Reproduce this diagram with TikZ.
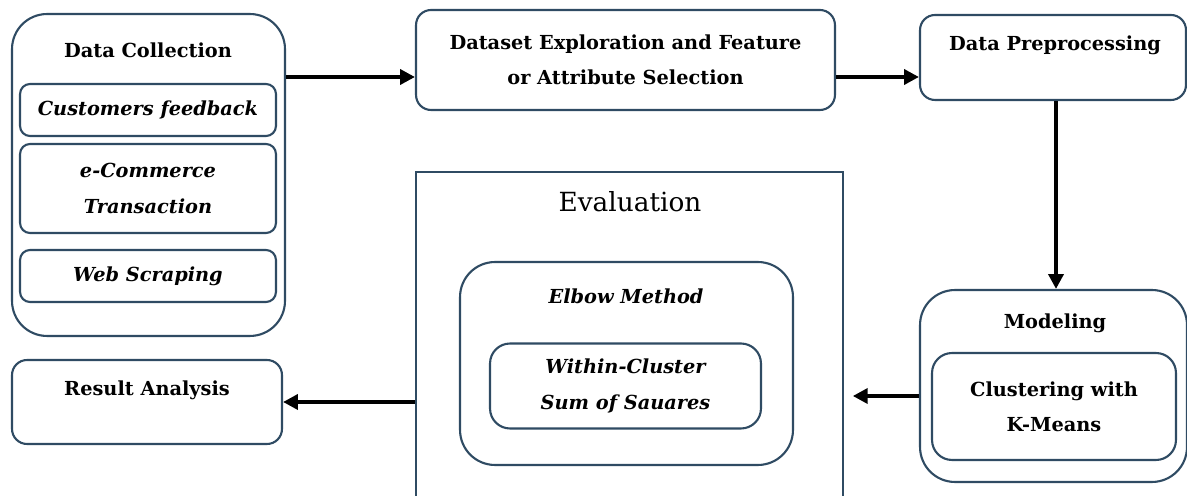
\documentclass[tikz,border=0pt]{standalone}
\usepackage{fontspec}
\setmainfont{DejaVu Serif}
\usepackage{tikz}
\usetikzlibrary{arrows.meta}
\definecolor{boxblue}{HTML}{2F4B63}
\tikzstyle{bigblock} = [draw=boxblue, line width=1.2pt, rounded corners=0.7cm, fill=white]
\tikzstyle{smallblock} = [draw=boxblue, line width=1.2pt, rounded corners=0.2cm, align=center]
\tikzstyle{flow} = [-{Triangle[length=8.5pt, width=8.5pt]}, line width=2.2pt]

\begin{document}
\begin{tikzpicture}[x=0.02cm, y=-0.02cm, font=\fontsize{11}{16}\selectfont\bfseries]
      \useasboundingbox (0,0) rectangle (1187,496);
      % data collection
      \node[bigblock, minimum width=5.46cm, minimum height=6.44cm] (datacoll) at (148.5, 175) {};
      \node (datatitle) at (148, 50) {Data Collection};
      \node[smallblock, minimum width=5.12cm, minimum height=1.04cm] (feedback) at (148, 110) {\itshape Customers feedback};
      \node[smallblock, minimum width=5.12cm, minimum height=1.78cm] (ecom) at (148, 188.5) {\itshape e-Commerce\\[4pt] \itshape Transaction};
      \node[smallblock, minimum width=5.12cm, minimum height=1.04cm] (scraping) at (148, 276) {\itshape Web Scraping};

      \node[smallblock, rounded corners=0.3cm, minimum width=8.38cm, minimum height=2cm] (explore) at (625.5, 60) {Dataset Exploration and Feature\\[4pt] or Attribute Selection};
      \node[smallblock, rounded corners=0.3cm, minimum width=5.32cm, minimum height=1.7cm] (preproc) at (1053, 57.5) {};
      \node (preptitle) at (1055, 45) {Data Preprocessing};

      % modeling
      \node[bigblock, minimum width=5.34cm, minimum height=3.84cm] (model) at (1053.5, 386) {};
      \node (modeltitle) at (1055, 323) {Modeling};
      \node[smallblock, rounded corners=0.4cm, minimum width=4.88cm, minimum height=2.14cm] (kmeans) at (1054, 406.5) {Clustering with\\[4pt] K-Means};

      % evaluation
      \node[draw=boxblue, line width=1.2pt, minimum width=8.54cm, minimum height=6.56cm] (eval) at (629.5, 336) {};
      \node[font=\fontsize{15}{18}\selectfont] (evaltitle) at (630, 202) {Evaluation};
      \node[bigblock, minimum width=6.66cm, minimum height=4.06cm] (elbow) at (626.5, 363.5) {};
      \node (elbowtitle) at (626, 296) {\itshape Elbow Method};
      \node[smallblock, rounded corners=0.4cm, minimum width=5.42cm, minimum height=1.7cm] (wcss) at (625.5, 386) {\itshape Within-Cluster\\[4pt] \itshape Sum of Sauares};

      \node[smallblock, rounded corners=0.3cm, minimum width=5.4cm, minimum height=1.68cm] (result) at (147, 402) {};
      \node (resulttitle) at (147, 390) {Result Analysis};

      \draw[flow] (datacoll.east |- 0,77) -- (explore.west |- 0,77);
      \draw[flow] (explore.east |- 0,77) -- (preproc.west |- 0,77);
      \draw[flow] (preproc.south -| 1056,0) -- (model.north -| 1056,0);
      \draw[flow, shorten >=5pt] (model.west |- 0,396) -- (eval.east |- 0,396);
      \draw[flow] (eval.west |- 0,402) -- (result.east |- 0,402);
    \end{tikzpicture}
\end{document}
